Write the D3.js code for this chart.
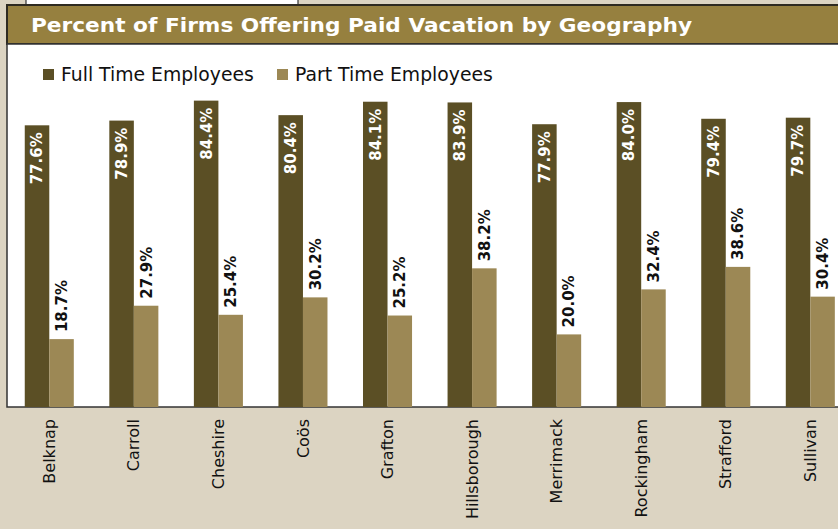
<!DOCTYPE html>
<html>
<head>
<meta charset="utf-8">
<script src="https://cdn.jsdelivr.net/npm/d3@7"></script>
<style>
	body { margin: 0; background: #dcd4c2; overflow: hidden; }
	text { font-family: "DejaVu Sans", Verdana, sans-serif; }
</style>
</head>
<body>
<div id="chart"></div>
<script>
var categories = ["Belknap", "Carroll", "Cheshire", "Coös", "Grafton", "Hillsborough", "Merrimack", "Rockingham", "Strafford", "Sullivan"];
var fullTime = [77.6, 78.9, 84.4, 80.4, 84.1, 83.9, 77.9, 84.0, 79.4, 79.7];
var partTime = [18.7, 27.9, 25.4, 30.2, 25.2, 38.2, 20.0, 32.4, 38.6, 30.4];
var seriesNames = ["Full Time Employees", "Part Time Employees"];
var seriesColors = ["#5b4f25", "#9c8855"];

var width = 838,
	height = 529;

var plotLeft = 7,
	plotTop = 44,
	plotBottom = 407,
	bandStep = 84.56;

var svg = d3.select("#chart")
	.append("svg")
		.attr("width", width)
		.attr("height", height);

// cut-off box above the banner
svg.append("rect")
	.attr("x", 26).attr("y", -10)
	.attr("width", 272).attr("height", 15)
	.attr("fill", "#fff")
	.attr("stroke", "#333").attr("stroke-width", 1.2);

// title banner
svg.append("rect")
	.attr("x", plotLeft).attr("y", 5)
	.attr("width", width).attr("height", plotTop - 5)
	.attr("fill", "#96803f")
	.attr("stroke", "#2e2a20").attr("stroke-width", 2);

svg.append("text")
	.attr("x", 31).attr("y", 32)
	.attr("fill", "#fff")
	.attr("font-size", 19)
	.attr("font-weight", "bold")
	.attr("textLength", 661)
	.attr("lengthAdjust", "spacingAndGlyphs")
	.text("Percent of Firms Offering Paid Vacation by Geography");

// plot area
svg.append("rect")
	.attr("x", plotLeft).attr("y", plotTop)
	.attr("width", width).attr("height", plotBottom - plotTop)
	.attr("fill", "#fff")
	.attr("stroke", "#333").attr("stroke-width", 1.5);

// legend
var legendX = [43, 277];
seriesNames.forEach(function(name, i) {
	svg.append("rect")
		.attr("x", legendX[i]).attr("y", 69)
		.attr("width", 11).attr("height", 11)
		.attr("fill", seriesColors[i]);
	svg.append("text")
		.attr("x", legendX[i] + 18).attr("y", 80.5)
		.attr("font-size", 18.8)
		.attr("fill", "#111")
		.text(name);
});

var x = d3.scaleBand()
	.domain(categories)
	.range([plotLeft, plotLeft + bandStep * categories.length])
	.paddingInner(0.42)
	.paddingOuter(0.21);

var xSeries = d3.scaleBand()
	.domain([0, 1])
	.range([0, x.bandwidth()]);

var y = d3.scaleLinear()
	.domain([0, 100])
	.range([plotBottom, plotTop]);

var rows = categories.map(function(c, i) {
	return {cat: c, values: [fullTime[i], partTime[i]]};
});

var groups = svg.selectAll("g.group")
	.data(rows)
	.enter().append("g")
		.attr("class", "group")
		.attr("transform", function(d) { return "translate(" + x(d.cat) + ",0)"; });

groups.selectAll("rect")
	.data(function(d) { return d.values; })
	.enter().append("rect")
		.attr("x", function(d, i) { return xSeries(i); })
		.attr("y", function(d) { return y(d); })
		.attr("width", xSeries.bandwidth())
		.attr("height", function(d) { return plotBottom - y(d); })
		.attr("fill", function(d, i) { return seriesColors[i]; });

// value labels
groups.selectAll("text.val")
	.data(function(d) { return d.values; })
	.enter().append("text")
		.attr("class", "val")
		.attr("transform", function(d, i) {
			var cx = xSeries(i) + xSeries.bandwidth() / 2;
			var cy = i === 0 ? y(d) + 7 : y(d) - 7;
			return "translate(" + cx + "," + cy + ") rotate(-90)";
		})
		.attr("text-anchor", function(d, i) { return i === 0 ? "end" : "start"; })
		.attr("dy", "0.36em")
		.attr("font-size", 15)
		.attr("font-weight", "bold")
		.attr("fill", function(d, i) { return i === 0 ? "#fff" : "#111"; })
		.text(function(d) { return d.toFixed(1) + "%"; });

// category axis labels
var xAxis = d3.axisBottom(x).tickSize(0).tickPadding(0);
var axisG = svg.append("g")
	.attr("transform", "translate(0," + plotBottom + ")")
	.call(xAxis);
axisG.select(".domain").remove();
axisG.selectAll("text")
	.attr("transform", "translate(0,12) rotate(-90)")
	.attr("text-anchor", "end")
	.attr("dy", "0.35em")
	.attr("y", 0)
	.attr("x", 0)
	.attr("font-size", 16)
	.attr("font-family", "DejaVu Sans, Verdana, sans-serif")
	.attr("fill", "#111");
</script>
</body>
</html>
